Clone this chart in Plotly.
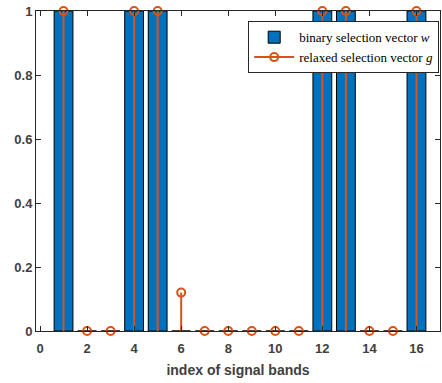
import plotly.graph_objects as go

bands = list(range(1, 17))
binary_w = [1, 0, 0, 1, 1, 0, 0, 0, 0, 0, 0, 1, 1, 0, 0, 1]
relaxed_g = [1, 0, 0, 1, 1, 0.12, 0, 0, 0, 0, 0, 1, 1, 0, 0, 1]
x_ticks = [0, 2, 4, 6, 8, 10, 12, 14, 16]
y_ticks = [0, 0.2, 0.4, 0.6, 0.8, 1]

BLUE = "#0072BD"
ORANGE = "#D95319"
AX = "#262626"
LBL = "#404040"

fig = go.Figure()

fig.add_trace(go.Bar(
    x=bands, y=binary_w, width=0.8,
    marker=dict(color=BLUE, line=dict(color="black", width=1)),
    name="binary selection vector <i>w</i>",
))

# stem lines
sx, sy = [], []
for b, g in zip(bands, relaxed_g):
    sx += [b, b, None]
    sy += [0, g, None]
fig.add_trace(go.Scatter(
    x=sx, y=sy, mode="lines", line=dict(color=ORANGE, width=2),
    showlegend=False, hoverinfo="skip", cliponaxis=False,
))
fig.add_trace(go.Scatter(
    x=bands, y=relaxed_g, mode="markers",
    marker=dict(symbol="circle-open", size=8, color=ORANGE, line=dict(width=2, color=ORANGE)),
    showlegend=False, cliponaxis=False,
))
# legend entry for stems
fig.add_trace(go.Scatter(
    x=[None], y=[None], mode="lines+markers",
    line=dict(color=ORANGE, width=2),
    marker=dict(symbol="circle-open", size=8, color=ORANGE, line=dict(width=2, color=ORANGE)),
    name="relaxed selection vector <i>g</i>",
))

axis_common = dict(
    showgrid=False, zeroline=False, showline=True, linecolor=AX, linewidth=1,
    mirror="ticks", ticks="inside", ticklen=5, tickcolor=AX, tickwidth=1,
    automargin=False,
    tickfont=dict(family="Liberation Sans", size=13, color=LBL, weight="bold"),
)

fig.update_layout(
    width=442, height=383,
    margin=dict(l=36, r=2, t=11, b=52, autoexpand=False),
    plot_bgcolor="white", paper_bgcolor="white",
    bargap=0.2,
    xaxis=dict(range=[-0.17, 17], tickvals=x_ticks, ticklabelstandoff=5,
               title=dict(text="<b>index of signal bands</b>", standoff=10,
                          font=dict(family="Liberation Sans", size=14, color=LBL)),
               **axis_common),
    yaxis=dict(range=[0, 1], tickvals=y_ticks, ticktext=["0", "0.2", "0.4", "0.6", "0.8", "1"],
               **axis_common),
    legend=dict(x=0.998, y=0.968, xanchor="right", yanchor="top",
                bgcolor="white", bordercolor=AX, borderwidth=1,
                font=dict(family="Liberation Serif", size=13, color="black"),
                tracegroupgap=0, itemwidth=40),
    showlegend=True,
)

fig.write_html(
    "out.html",
    config={"displayModeBar": False},
    post_script="document.body.style.margin='0';document.body.style.overflow='hidden';",
)
